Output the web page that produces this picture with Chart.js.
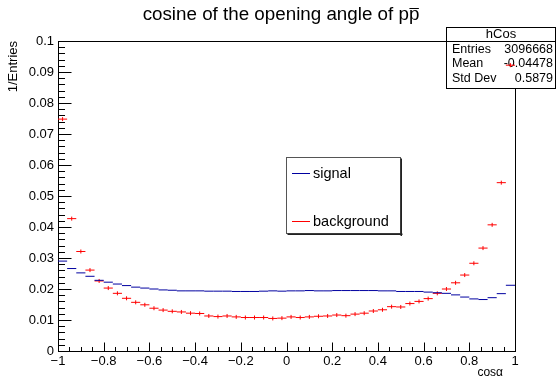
<!DOCTYPE html>
<html><head><meta charset="utf-8">
<script src="https://cdn.jsdelivr.net/npm/chart.js@4/dist/chart.umd.min.js"></script>
<style>html,body{margin:0;padding:0;background:#fff}canvas{display:block}</style>
</head><body>
<canvas id="c" width="558" height="377"></canvas>
<script>
// ---- data ----
const binCenters = [-0.98,-0.94,-0.90,-0.86,-0.82,-0.78,-0.74,-0.70,-0.66,-0.62,
  -0.58,-0.54,-0.50,-0.46,-0.42,-0.38,-0.34,-0.30,-0.26,-0.22,
  -0.18,-0.14,-0.10,-0.06,-0.02,0.02,0.06,0.10,0.14,0.18,
  0.22,0.26,0.30,0.34,0.38,0.42,0.46,0.50,0.54,0.58,
  0.62,0.66,0.70,0.74,0.78,0.82,0.86,0.90,0.94,0.98];
const signal = [0.0290,0.0266,0.0252,0.0241,0.0228,0.0222,0.0216,0.0211,0.0206,0.0203,
  0.0200,0.0197,0.0196,0.0194,0.0194,0.0194,0.0193,0.0193,0.0193,0.0192,
  0.0192,0.0192,0.0193,0.0194,0.0193,0.0194,0.0194,0.0195,0.0194,0.0194,
  0.0195,0.0195,0.0195,0.0195,0.0195,0.0194,0.0194,0.0192,0.0192,0.0192,
  0.0190,0.0188,0.0186,0.0181,0.0174,0.0168,0.0166,0.0172,0.0185,0.0212];
const background = [0.0748,0.0427,0.0321,0.0261,0.0226,0.0203,0.0186,0.0170,0.0157,0.0149,
  0.0138,0.0132,0.0128,0.0126,0.0122,0.0121,0.0113,0.0111,0.0113,0.0110,
  0.0108,0.0108,0.0108,0.0105,0.0106,0.0110,0.0108,0.0110,0.0112,0.0113,
  0.0116,0.0114,0.0119,0.0122,0.0129,0.0133,0.0143,0.0142,0.0153,0.0160,
  0.0169,0.0186,0.0200,0.0220,0.0245,0.0283,0.0332,0.0407,0.0543,0.0922];
const seriesNames = ["signal", "background"];
const titleText = "cosine of the opening angle of pp";
const yTitle = "1/Entries";
const xTitle = "cos\u03b1";
const statsName = "hCos";
const statsRows = [["Entries", "3096668"], ["Mean", "-0.04478"], ["Std Dev", "0.5879"]];

const FONT = "'Liberation Sans', Arial, Helvetica, sans-serif";
const BLUE = "rgb(0,0,160)", RED = "rgb(255,0,0)";

function halfBin(chart) {
  const x = chart.scales.x;
  return Math.abs(x.getPixelForValue(binCenters[1]) - x.getPixelForValue(binCenters[0])) / 2;
}
function pts(arr) { return binCenters.map((x, i) => ({x: x, y: arr[i]})); }
function fmt(v) { return String(+v.toFixed(3)).replace('-', '\u2212'); }

const decor = {
  id: 'decor',
  beforeDatasetsDraw(chart) {
    const {ctx, chartArea: a, scales: {x, y}} = chart;
    ctx.save();
    ctx.strokeStyle = '#000'; ctx.lineWidth = 1;
    const L = Math.round(a.left) + 0.5, R = Math.round(a.right) + 0.5;
    const T = Math.round(a.top) + 0.5, B = Math.round(a.bottom) + 0.5;
    ctx.strokeRect(L, T, R - L, B - T);
    ctx.beginPath();
    const xt = x.ticks.map(t => t.value);
    for (let i = 0; i < xt.length; i++) {
      const px = Math.round(x.getPixelForValue(xt[i])) + 0.5;
      ctx.moveTo(px, B); ctx.lineTo(px, B - 9);
      if (i < xt.length - 1) {
        for (let k = 1; k < 4; k++) {
          const v = xt[i] + (xt[i + 1] - xt[i]) * k / 4;
          const pm = Math.round(x.getPixelForValue(v)) + 0.5;
          ctx.moveTo(pm, B); ctx.lineTo(pm, B - 4.5);
        }
      }
    }
    const yt = y.ticks.map(t => t.value);
    for (let i = 0; i < yt.length; i++) {
      const py = Math.round(y.getPixelForValue(yt[i])) + 0.5;
      ctx.moveTo(L, py); ctx.lineTo(L + 13, py);
      if (i < yt.length - 1) {
        for (let k = 1; k < 5; k++) {
          const v = yt[i] + (yt[i + 1] - yt[i]) * k / 5;
          const pm = Math.round(y.getPixelForValue(v)) + 0.5;
          ctx.moveTo(L, pm); ctx.lineTo(L + 6.5, pm);
        }
      }
    }
    ctx.stroke();

    // stats box
    const sx = 446.5, sy = 27.5, sw = 109, sh = 61;
    ctx.fillStyle = '#fff';
    ctx.fillRect(sx, sy, sw, sh);
    ctx.strokeRect(sx, sy, sw, sh);
    ctx.beginPath(); ctx.moveTo(sx, 41.5); ctx.lineTo(sx + sw, 41.5); ctx.stroke();
    ctx.fillStyle = '#000';
    ctx.font = '13px ' + FONT;
    ctx.textBaseline = 'middle';
    ctx.textAlign = 'center';
    ctx.fillText(statsName, sx + sw / 2, 34.5);
    const rowsY = [49.5, 64, 78.5];
    ctx.font = '12.5px ' + FONT;
    statsRows.forEach((r, i) => {
      ctx.textAlign = 'left'; ctx.fillText(r[0], 452, rowsY[i]);
      ctx.textAlign = 'right'; ctx.fillText(r[1], 553, rowsY[i]);
    });
    ctx.restore();
  },
  afterDraw(chart) {
    const {ctx, chartArea: a} = chart;
    ctx.save();
    ctx.globalAlpha = 1;
    ctx.globalCompositeOperation = 'source-over';
    // title
    ctx.font = '18.8px ' + FONT;
    ctx.fillStyle = '#000';
    ctx.textBaseline = 'alphabetic';
    ctx.textAlign = 'center';
    const cx = 281, by = 20;
    ctx.fillText(titleText, cx, by);
    const w = ctx.measureText(titleText).width;
    const wp = ctx.measureText('p').width;
    const endX = cx + w / 2;
    ctx.fillRect(endX - wp + 0.5, 8, wp - 1, 1);

    // axis titles
    ctx.font = '13px ' + FONT;
    ctx.save();
    ctx.translate(13, a.top);
    ctx.rotate(-Math.PI / 2);
    ctx.textAlign = 'right'; ctx.textBaseline = 'middle';
    ctx.fillText(yTitle, 0, 0);
    ctx.restore();
    ctx.font = '12px ' + FONT;
    ctx.textAlign = 'right'; ctx.textBaseline = 'alphabetic';
    ctx.fillText(xTitle, 503, 376);

    // legend box
    const lx = 286.5, ly = 157.5, lw = 114, lh = 76;
    ctx.fillStyle = '#fff';
    ctx.fillRect(lx, ly, lw, lh);
    ctx.strokeStyle = '#555';
    ctx.lineWidth = 1;
    ctx.strokeRect(lx, ly, lw, lh);
    ctx.fillStyle = '#222';
    ctx.fillRect(lx + lw, ly + 1, 1.5, lh + 1.5);
    ctx.fillRect(lx + 1, ly + lh, lw + 1, 1.5);
    ctx.restore();

    // legend entries
    const ys = [173.5, 221.5];
    const cols = [BLUE, RED];
    for (let i = 0; i < 2; i++) {
      ctx.save();
      ctx.lineWidth = 1;
      ctx.strokeStyle = cols[i];
      ctx.beginPath();
      ctx.moveTo(292, ys[i]);
      ctx.lineTo(310, ys[i]);
      ctx.stroke();
      ctx.restore();
      ctx.save();
      ctx.font = '14.5px ' + FONT;
      ctx.fillStyle = '#000';
      ctx.textAlign = 'left'; ctx.textBaseline = 'middle';
      ctx.fillText(seriesNames[i], 313, ys[i] + 0.5);
      ctx.restore();
    }
  }
};

new Chart(document.getElementById('c'), {
  type: 'scatter',
  data: {
    datasets: [
      {label: seriesNames[0], data: pts(signal), pointStyle: 'line',
       pointRadius: c => halfBin(c.chart), pointHoverRadius: c => halfBin(c.chart),
       borderColor: BLUE, backgroundColor: BLUE, borderWidth: 1, pointBorderWidth: 1, showLine: false},
      {label: seriesNames[1], data: pts(background), pointStyle: 'line',
       pointRadius: c => halfBin(c.chart), pointHoverRadius: c => halfBin(c.chart),
       borderColor: RED, backgroundColor: RED, borderWidth: 1, pointBorderWidth: 1, showLine: false},
      {label: seriesNames[1] + ' err', data: pts(background), pointStyle: 'line', pointRotation: 90,
       pointRadius: 2, pointHoverRadius: 2,
       borderColor: RED, backgroundColor: RED, borderWidth: 1, pointBorderWidth: 1, showLine: false}
    ]
  },
  options: {
    responsive: false, animation: false, devicePixelRatio: 1,
    events: [],
    layout: {padding: {left: 0, top: 41, right: 43, bottom: 0}},
    plugins: {legend: {display: false}, tooltip: {enabled: false}, title: {display: false}},
    scales: {
      x: {type: 'linear', min: -1, max: 1,
          grid: {display: false, drawTicks: false}, border: {display: false},
          ticks: {stepSize: 0.2, autoSkip: false, maxRotation: 0, padding: 3, color: '#000',
                  font: {family: FONT, size: 13}, callback: v => fmt(v)},
          afterFit: s => { s.height = 26; }},
      y: {type: 'linear', min: 0, max: 0.1,
          grid: {display: false, drawTicks: false}, border: {display: false},
          ticks: {stepSize: 0.01, autoSkip: false, padding: 4, color: '#000',
                  font: {family: FONT, size: 13}, callback: v => fmt(v)},
          afterFit: s => { s.width = 58; }}
    }
  },
  plugins: [decor]
});
</script>
</body></html>
